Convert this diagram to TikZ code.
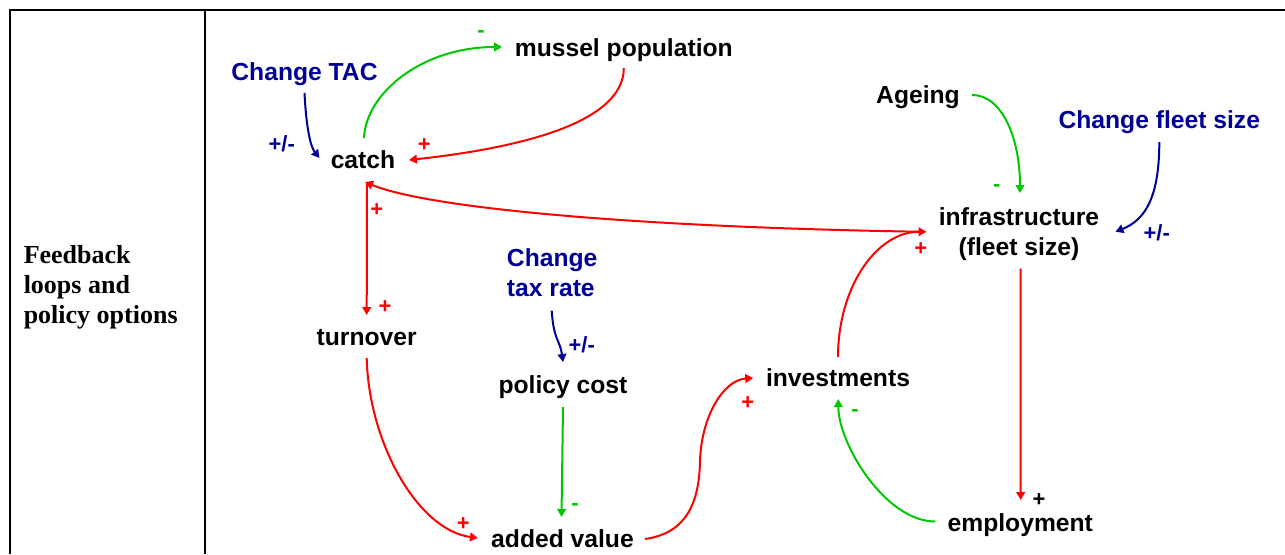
\documentclass[tikz,border=0pt]{standalone}
\usepackage{fontspec}
\setmainfont{Liberation Sans}
\newfontfamily\serifbold{Liberation Serif}
\usetikzlibrary{arrows.meta,calc}

\definecolor{linkred}{RGB}{255,0,0}
\definecolor{linkgreen}{RGB}{0,200,0}
\definecolor{policyblue}{RGB}{0,0,150}

\begin{document}
\begin{tikzpicture}[x=0.75pt,y=-0.75pt,
  varnode/.style={inner sep=0pt, font=\fontsize{18.5}{22.5}\selectfont\bfseries, text=black},
  policy/.style={varnode, text=policyblue},
  sign/.style={inner sep=0pt, anchor=base, font=\fontsize{16.5}{20}\selectfont\bfseries},
  link/.style={line width=1.5pt, -{Triangle[length=6pt,width=6.5pt]}},
  poslink/.style={link, draw=linkred},
  neglink/.style={link, draw=linkgreen},
  pollink/.style={link, draw=policyblue},
  tableline/.style={line width=1.5pt, draw=black, line join=miter}]

\useasboundingbox (0,0) rectangle (1285,554);

% table frame
\draw[tableline] (10,554) -- (10,10) -- (1285,10);
\draw[tableline] (205,10) -- (205,554);

% row heading
\node[anchor=north west, inner sep=0pt, align=left,
      font=\serifbold\fontsize{19.5}{22.5}\selectfont\bfseries] (title)
      at (23.5,245) {Feedback\\loops and\\policy options};

% variables and policy levers
\node[varnode, anchor=base] (mussel) at (623.8,56) {mussel population};
\node[policy, anchor=base] (tac) at (304.5,80) {Change TAC};
\node[varnode, anchor=base] (catch) at (363,168) {catch};
\node[varnode, anchor=base] (ageing) at (918,103) {Ageing};
\node[policy, anchor=base] (fleet) at (1159.3,128) {Change fleet size};
\node[varnode, anchor=north, align=center] (infra) at (1019,207) {infrastructure\\(fleet size)};
\node[varnode, anchor=base] (turnover) at (366.7,345) {turnover};
\node[policy, anchor=north west, align=left] (tax) at (506.7,248) {Change\\tax rate};
\node[varnode, anchor=base] (cost) at (563,393) {policy cost};
\node[varnode, anchor=base] (added) at (562.5,547) {added value};
\node[varnode, anchor=base] (invest) at (838,386) {investments};
\node[varnode, anchor=base] (employ) at (1020.3,531) {employment};

% causal links
\draw[neglink] ([shift={(1,-30)}]catch.base) .. controls +(2,-45) and +(-80,0) .. ([shift={(-12.5,-9)}]mussel.base west);
\draw[poslink] ([shift={(0,12)}]mussel.base) .. controls +(0,55) and +(110,-12) .. ([shift={(13.5,-8)}]catch.base east);
\draw[pollink] ([shift={(0,13)}]tac.base) .. controls +(2,40) and +(-8,-10) .. ([shift={(-11,-10)}]catch.base west);
\draw[poslink] ([shift={(-18,-2)}]infra.west) .. controls +(-300,-5) and +(60,25) .. ([shift={(2,14)}]catch.base);
\draw[poslink] ([shift={(4,16)}]catch.base) -- ([shift={(0,-30)}]turnover.base);
\draw[poslink] ([shift={(0,13)}]turnover.base) .. controls +(2,85) and +(-60,-8) .. ([shift={(-13,-9)}]added.base west);
\draw[pollink] ([shift={(-0.5,14)}]tax.south) .. controls +(2,30) and +(-3,-22) .. ([shift={(0,-31)}]cost.base);
\draw[neglink] ([shift={(0,14)}]cost.base) -- ([shift={(-1,-30)}]added.base);
\coordinate (avbend) at (700,462);
\draw[poslink] ([shift={(11,-8)}]added.base east) .. controls +(42,-6) and +(-1,40) .. (avbend)
  .. controls +(1,-45) and +(-30,2) .. ([shift={(-12.5,-8)}]invest.base west);
\draw[poslink] ([shift={(0,-29)}]invest.base) .. controls +(0,-70) and +(-50,0) .. ([shift={(-12,-2)}]infra.west);
\draw[neglink] ([shift={(12,-8)}]ageing.base east) .. controls +(30,0) and +(0,-55) .. ([shift={(1,-14)}]infra.north);
\draw[pollink] ([shift={(0,14)}]fleet.base) .. controls +(0,55) and +(30,-12) .. ([shift={(16,-2)}]infra.east);
\draw[poslink] ([shift={(1.5,8)}]infra.south) -- ([shift={(0.4,-31)}]employ.base);
\draw[neglink] ([shift={(-12,-9.5)}]employ.base west) .. controls +(-50,0) and +(0,45) .. ([shift={(0.3,13)}]invest.base);

% link polarities
\node[sign, text=linkgreen] (s1) at (481,37.7) {-};
\node[sign, text=linkred] (s2) at (424.3,151.5) {+};
\node[sign, text=policyblue] (s3) at (281.7,151.5) {+/-};
\node[sign, text=linkred] (s4) at (376.7,216.5) {+};
\node[sign, text=linkred] (s5) at (385,313.5) {+};
\node[sign, text=policyblue] (s6) at (581.7,352.5) {+/-};
\node[sign, text=linkgreen] (s7) at (575,510) {-};
\node[sign, text=linkred] (s8) at (463.3,530.2) {+};
\node[sign, text=linkred] (s9) at (747.7,409.2) {+};
\node[sign, text=linkgreen] (s10) at (855,416) {-};
\node[sign, text=linkred] (s11) at (920.7,255.8) {+};
\node[sign, text=linkgreen] (s12) at (996.7,191) {-};
\node[sign, text=policyblue] (s13) at (1156.7,240.2) {+/-};
\node[sign, text=black] (s14) at (1039,506.5) {+};
\end{tikzpicture}
\end{document}
